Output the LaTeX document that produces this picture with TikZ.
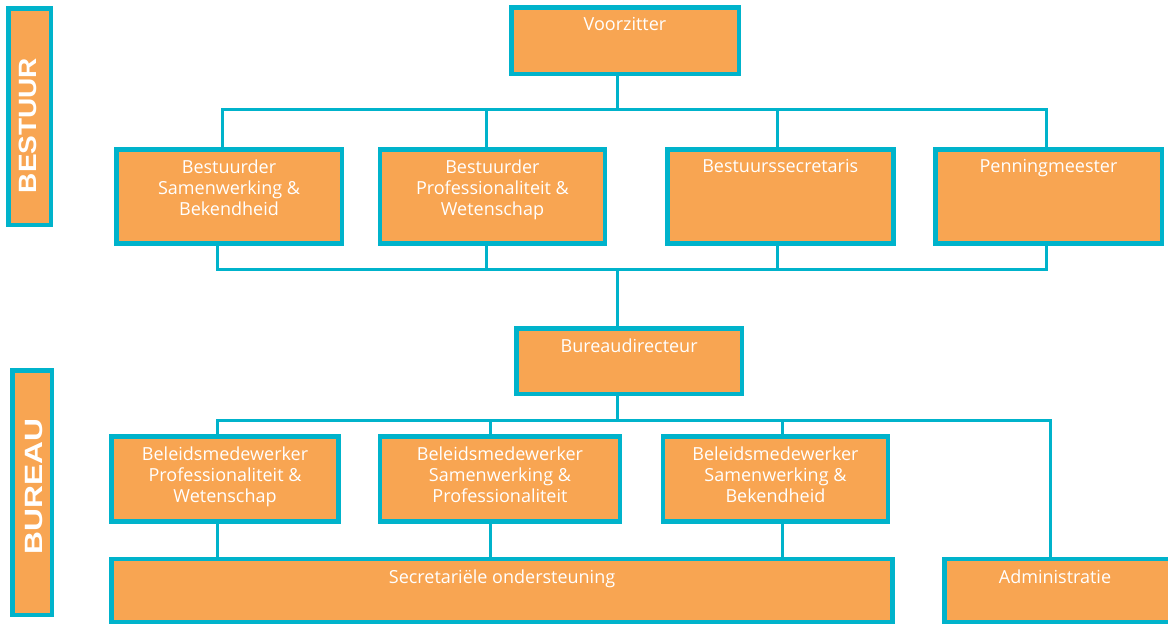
\documentclass[tikz,border=0pt]{standalone}
\usepackage{fontspec}
\setmainfont{Open Sans}
\newfontfamily\headfont{Liberation Sans}
\definecolor{boxfill}{HTML}{F8A552}
\definecolor{edgeblue}{HTML}{00B3CB}
\begin{document}
\begin{tikzpicture}[x=1pt, y=-1pt,
      unit/.style = {draw=edgeblue, line width=4.5pt, fill=boxfill, anchor=north west, inner sep=0pt},
      txt/.style = {text=white, font=\fontsize{18}{21}\selectfont, align=center, anchor=north, inner sep=0pt},
      side/.style = {text=white, font=\headfont\bfseries\fontsize{25}{25}\selectfont, rotate=90, inner sep=0pt},
      link/.style = {draw=edgeblue, line width=3pt}]
    \useasboundingbox (0,0) rectangle (1168,625);

    % side bars
    \node[unit, minimum width=42.5pt, minimum height=216.5pt] (bestuur) at (6, 6) {};
    \node[unit, minimum width=39.5pt, minimum height=244.5pt] (bureau) at (10, 368) {};
    \node[side, xscale=1.12] (bestuur-t) at ([xshift=-1.5pt, yshift=-9pt]bestuur.center) {BESTUUR};
    \node[side, xscale=1.27] (bureau-t) at ([xshift=2pt, yshift=6pt]bureau.center) {BUREAU};

    % connectors
    \coordinate (t1) at (222.5, 109);
    \coordinate (t2) at (486, 109);
    \coordinate (t0) at (617.7, 109);
    \coordinate (t3) at (777.5, 109);
    \coordinate (t4) at (1046, 109);
    \coordinate (m1) at (217.7, 269.3);
    \coordinate (m2) at (486, 269.3);
    \coordinate (m0) at (617.7, 269.3);
    \coordinate (m3) at (777.5, 269.3);
    \coordinate (m4) at (1046, 269.3);
    \coordinate (u1) at (217.5, 420);
    \coordinate (u2) at (490.6, 420);
    \coordinate (u0) at (617.7, 420);
    \coordinate (u3) at (782.6, 420);
    \coordinate (u4) at (1050.7, 420);

    % bestuur boxes
    \node[unit, minimum width=227.5pt, minimum height=66.5pt] (vz) at (509, 5) {};
    \node[unit, minimum width=225.5pt, minimum height=94pt] (bsb) at (114, 147) {};
    \node[unit, minimum width=225pt, minimum height=94pt] (bpw) at (377.7, 147) {};
    \node[unit, minimum width=226pt, minimum height=94pt] (bs) at (665, 147) {};
    \node[unit, minimum width=226.5pt, minimum height=94pt] (pm) at (933, 147) {};

    % bureau boxes
    \node[unit, minimum width=225.8pt, minimum height=65.5pt] (bd) at (514, 326) {};
    \node[unit, minimum width=227pt, minimum height=85pt] (bmpw) at (109.3, 434) {};
    \node[unit, minimum width=240pt, minimum height=85pt] (bmsp) at (377.7, 434) {};
    \node[unit, minimum width=225pt, minimum height=85pt] (bmsb) at (660.7, 434) {};
    \node[unit, minimum width=781pt, minimum height=63pt] (sec) at (109.3, 556.7) {};
    \node[unit, minimum width=230pt, minimum height=63pt] (adm) at (942.3, 556.7) {};

    % lines
    \draw[link] (t1 |- bsb.north) -- (t1) -- (t4) -- (t4 |- pm.north);
    \draw[link] (vz.south -| t0) -- (t0);
    \draw[link] (t2) -- (t2 |- bpw.north);
    \draw[link] (t3) -- (t3 |- bs.north);

    \draw[link] (m1 |- bsb.south) -- (m1) -- (m4) -- (m4 |- pm.south);
    \draw[link] (m2 |- bpw.south) -- (m2);
    \draw[link] (m3 |- bs.south) -- (m3);
    \draw[link] (m0) -- (m0 |- bd.north);

    \draw[link] (bd.south -| u0) -- (u0);
    \draw[link] (u1 |- bmpw.north) -- (u1) -- (u4) -- (u4 |- adm.north);
    \draw[link] (u2) -- (u2 |- bmsp.north);
    \draw[link] (u3) -- (u3 |- bmsb.north);
    \draw[link] (bmpw.south -| u1) -- (u1 |- sec.north);
    \draw[link] (bmsp.south -| u2) -- (u2 |- sec.north);
    \draw[link] (bmsb.south -| u3) -- (u3 |- sec.north);

    % texts
    \node[txt] (vz-t) at ([yshift=-12.5pt]vz.north) {Voorzitter};
    \node[txt] (bsb-t) at ([yshift=-12.5pt]bsb.north) {Bestuurder\\Samenwerking \&\\Bekendheid};
    \node[txt] (bpw-t) at ([yshift=-12.5pt]bpw.north) {Bestuurder\\Professionaliteit \&\\Wetenschap};
    \node[txt] (bs-t) at ([yshift=-12.5pt]bs.north) {Bestuurssecretaris};
    \node[txt] (pm-t) at ([yshift=-12.5pt]pm.north) {Penningmeester};
    \node[txt] (bd-t) at ([yshift=-12.5pt]bd.north) {Bureaudirecteur};
    \node[txt] (bmpw-t) at ([yshift=-12.5pt]bmpw.north) {Beleidsmedewerker\\Professionaliteit \&\\Wetenschap};
    \node[txt] (bmsp-t) at ([yshift=-12.5pt]bmsp.north) {Beleidsmedewerker\\Samenwerking \&\\Professionaliteit};
    \node[txt] (bmsb-t) at ([yshift=-12.5pt]bmsb.north) {Beleidsmedewerker\\Samenwerking \&\\Bekendheid};
    \node[txt] (sec-t) at ([yshift=-12.5pt]sec.north) {Secretariële ondersteuning};
    \node[txt] (adm-t) at ([yshift=-12.5pt]adm.north -| 1055,0) {Administratie};
  \end{tikzpicture}
\end{document}
